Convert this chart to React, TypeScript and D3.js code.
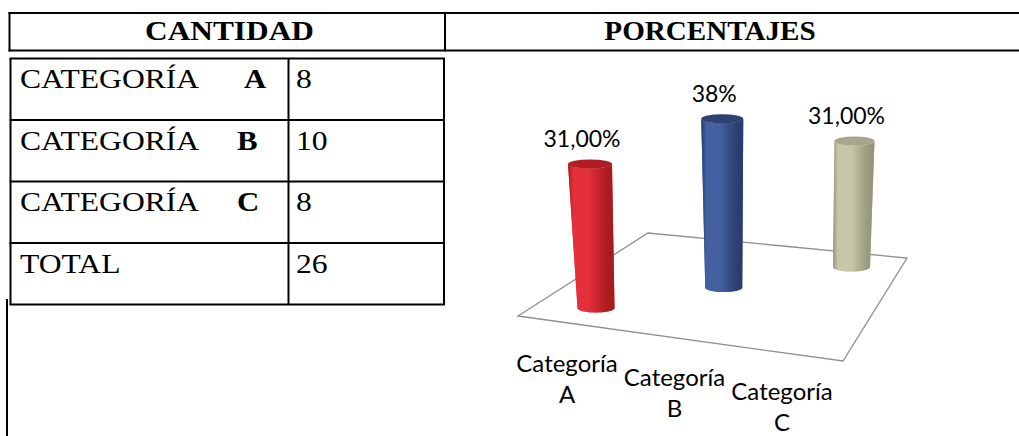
import React from "react";
import * as d3 from "d3";

// data
const categorias = ["A", "B", "C"];
const cantidades = [8, 10, 8];
const porcentajes = ["31,00%", "38%", "31,00%"];
const filasTabla = ["CATEGORÍA", "CATEGORÍA", "CATEGORÍA", "TOTAL"];
const letrasTabla = ["A", "B", "C", ""];
const total = d3.sum(cantidades);
const valoresTabla = [...cantidades.map(String), String(total)];

const colores = [
  { edge: "#a3191d", mid: "#e3303a", top: "#ae1e23" },
  { edge: "#29396a", mid: "#4560a0", top: "#2e4174" },
  { edge: "#929277", mid: "#c6c6a8", top: "#a6a68a" },
];

const W = 1019;
const H = 436;
const serif = "'Liberation Serif', 'Times New Roman', serif";
const sans = "Lato, 'Noto Sans', sans-serif";

// floor of the 3d plot
const floor = [
  [518, 316],
  [648, 233],
  [907, 258],
  [843, 361],
];

const Cylinder = ({ bx, by, tx, ty, rb, rt, ry, c, id }) => {
  const body = `M${tx - rt},${ty} L${bx - rb},${by} A${rb},${ry} 0 0 0 ${bx + rb},${by} L${tx + rt},${ty} A${rt},${ry} 0 0 1 ${tx - rt},${ty} Z`;
  return (
    <g>
      <defs>
        <linearGradient id={id} x1="0" x2="1" y1="0" y2="0">
          <stop offset="0" stopColor={c.edge} />
          <stop offset="0.12" stopColor={c.mid} stopOpacity="0.9" />
          <stop offset="0.45" stopColor={c.mid} />
          <stop offset="0.85" stopColor={c.edge} stopOpacity="0.85" />
          <stop offset="1" stopColor={c.edge} />
        </linearGradient>
      </defs>
      <path d={body} fill={c.mid} />
      <path d={body} fill={`url(#${id})`} />
      <ellipse cx={tx} cy={ty} rx={rt} ry={ry} fill={c.top} />
    </g>
  );
};

export default function App() {
  const rowY = d3.range(5).map((i) => 58.5 + i * 61.5);

  const baseX = d3.scalePoint(categorias, [596, 851.5]);
  const baseY = d3.scalePoint(categorias, [308, 267]);
  const depthK = d3.scalePoint(categorias, [18, 15.75]);
  const tilt = d3.scalePoint(categorias, [-6, 3]);
  const rTop = d3.scalePoint(categorias, [22, 20]);
  const rBot = d3.scalePoint(categorias, [18.5, 18.5]);
  const labX = d3.scalePoint(categorias, [567, 782]);
  const labY = d3.scalePoint(categorias, [372, 400]);

  const line = d3.line();

  return (
    <svg
      width={W}
      height={H}
      style={{ position: "absolute", left: 0, top: 0, background: "#fff" }}
    >
      {/* header of the outer table */}
      <g stroke="#000" strokeWidth={2}>
        <line x1={8.5} x2={W} y1={13} y2={13} />
        <line x1={8.5} x2={W} y1={50.5} y2={50.5} />
        <line x1={9.5} x2={9.5} y1={12} y2={51.5} />
        <line x1={445} x2={445} y1={12} y2={51.5} />
        <line x1={7} x2={7} y1={299} y2={H} />
      </g>
      <text
        transform="translate(229.5,40) scale(1.12,1)"
        textAnchor="middle"
        fontFamily={serif}
        fontWeight="bold"
        fontSize={28}
      >
        CANTIDAD
      </text>
      <text
        transform="translate(710,40) scale(1.04,1)"
        textAnchor="middle"
        fontFamily={serif}
        fontWeight="bold"
        fontSize={28}
      >
        PORCENTAJES
      </text>

      {/* inner table */}
      <g stroke="#000" strokeWidth={2} fill="none">
        {rowY.map((y, i) => (
          <line key={i} x1={9.5} x2={445} y1={y} y2={y} />
        ))}
        <line x1={10.5} x2={10.5} y1={rowY[0]} y2={rowY[4]} />
        <line x1={288.5} x2={288.5} y1={rowY[0]} y2={rowY[4]} />
        <line x1={444} x2={444} y1={rowY[0]} y2={rowY[4]} />
      </g>
      <g fontFamily={serif} fontSize={28}>
        {filasTabla.map((t, i) => (
          <g key={i}>
            <text transform={`translate(20,${rowY[i] + 29.5}) scale(1.13,1)`}>{t}</text>
            {letrasTabla[i] && (
              <text
                transform={`translate(${i === 0 ? 244 : 237},${rowY[i] + 29.5}) scale(1.1,1)`}
                fontWeight="bold"
              >
                {letrasTabla[i]}
              </text>
            )}
            <text transform={`translate(296,${rowY[i] + 29.5}) scale(1.13,1)`}>
              {valoresTabla[i]}
            </text>
          </g>
        ))}
      </g>

      {/* 3d cylinder chart */}
      <path
        d={line(floor) + "Z"}
        fill="#fff"
        stroke="#8f8f8f"
        strokeWidth={1.3}
      />
      {categorias.map((c, i) => {
        const bx = baseX(c);
        const by = baseY(c);
        const tx = bx + tilt(c);
        const ty = by - cantidades[i] * depthK(c);
        return (
          <g key={c}>
            <Cylinder
              id={`g${i}`}
              bx={bx}
              by={by}
              tx={tx}
              ty={ty}
              rb={rBot(c)}
              rt={rTop(c)}
              ry={4.5}
              c={colores[i]}
            />
            <text
              x={tx - 8}
              y={ty - 17}
              textAnchor="middle"
              fontFamily={sans}
              fontSize={23}
              fill="#000"
            >
              {porcentajes[i]}
            </text>
            <text
              x={labX(c)}
              y={labY(c)}
              textAnchor="middle"
              fontFamily={sans}
              fontSize={24}
            >
              <tspan x={labX(c)}>Categoría</tspan>
              <tspan x={labX(c)} dy={31}>
                {c}
              </tspan>
            </text>
          </g>
        );
      })}
    </svg>
  );
}
